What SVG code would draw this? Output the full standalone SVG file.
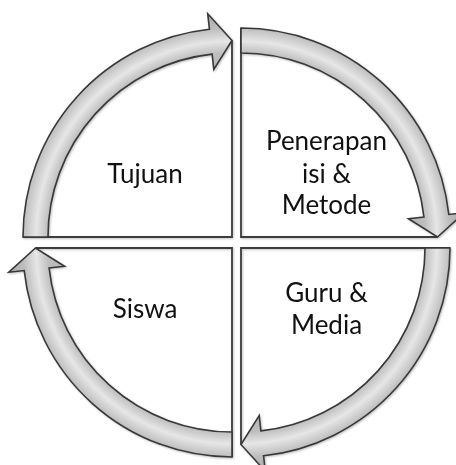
<svg xmlns="http://www.w3.org/2000/svg" width="456" height="465" viewBox="0 0 456 465">
<style>
.arrow{fill:url(#band);stroke:#383838;stroke-width:1.6;stroke-linejoin:miter}
.edge{fill:none;stroke:#3c3c3c;stroke-width:1.8}
.lbl{font-family:Lato,"Open Sans","Liberation Sans",sans-serif;font-size:26px;fill:#111;text-anchor:middle}
</style>
<defs>
<radialGradient id="band" gradientUnits="userSpaceOnUse" cx="0" cy="0" r="225">
<stop offset="0.74" stop-color="#b4b4b4"/>
<stop offset="0.818" stop-color="#bebebe"/>
<stop offset="0.87" stop-color="#e6e6e6"/>
<stop offset="0.929" stop-color="#bdbdbd"/>
<stop offset="1" stop-color="#aaaaaa"/>
</radialGradient>
<filter id="soft" x="-10%" y="-10%" width="120%" height="120%">
<feDropShadow dx="1" dy="1" stdDeviation="1.2" flood-color="#000" flood-opacity="0.25"/>
</filter>
<g id="quad">
<path class="edge" d="M -209 0 L 0 0 L 0 -196.5"/>
<path class="arrow" d="M -209 0 A 209 209 0 0 1 -22.57 -207.78 L -24.25 -223.19 L 0 -196.5 L -18.2 -167.51 L -19.87 -182.92 A 184 184 0 0 0 -184 0 Z"/>
</g>
</defs>
<g id="connectors" filter="url(#soft)">
<use href="#quad" transform="translate(232,237)"/>
<use href="#quad" transform="translate(241,237) rotate(90)"/>
<use href="#quad" transform="translate(241,248) rotate(180)"/>
<use href="#quad" transform="translate(232,248) rotate(270)"/>
</g>
<g id="tujuan"><text class="lbl" x="145" y="183">Tujuan</text></g>
<g id="penerapan"><text class="lbl" x="326.5" y="150">Penerapan</text><text class="lbl" x="326.5" y="182.5">isi &amp;</text><text class="lbl" x="326.5" y="213.5">Metode</text></g>
<g id="guru"><text class="lbl" x="326.5" y="301.5">Guru &amp;</text><text class="lbl" x="326.5" y="334">Media</text></g>
<g id="siswa"><text class="lbl" x="145" y="317.5">Siswa</text></g>
</svg>
